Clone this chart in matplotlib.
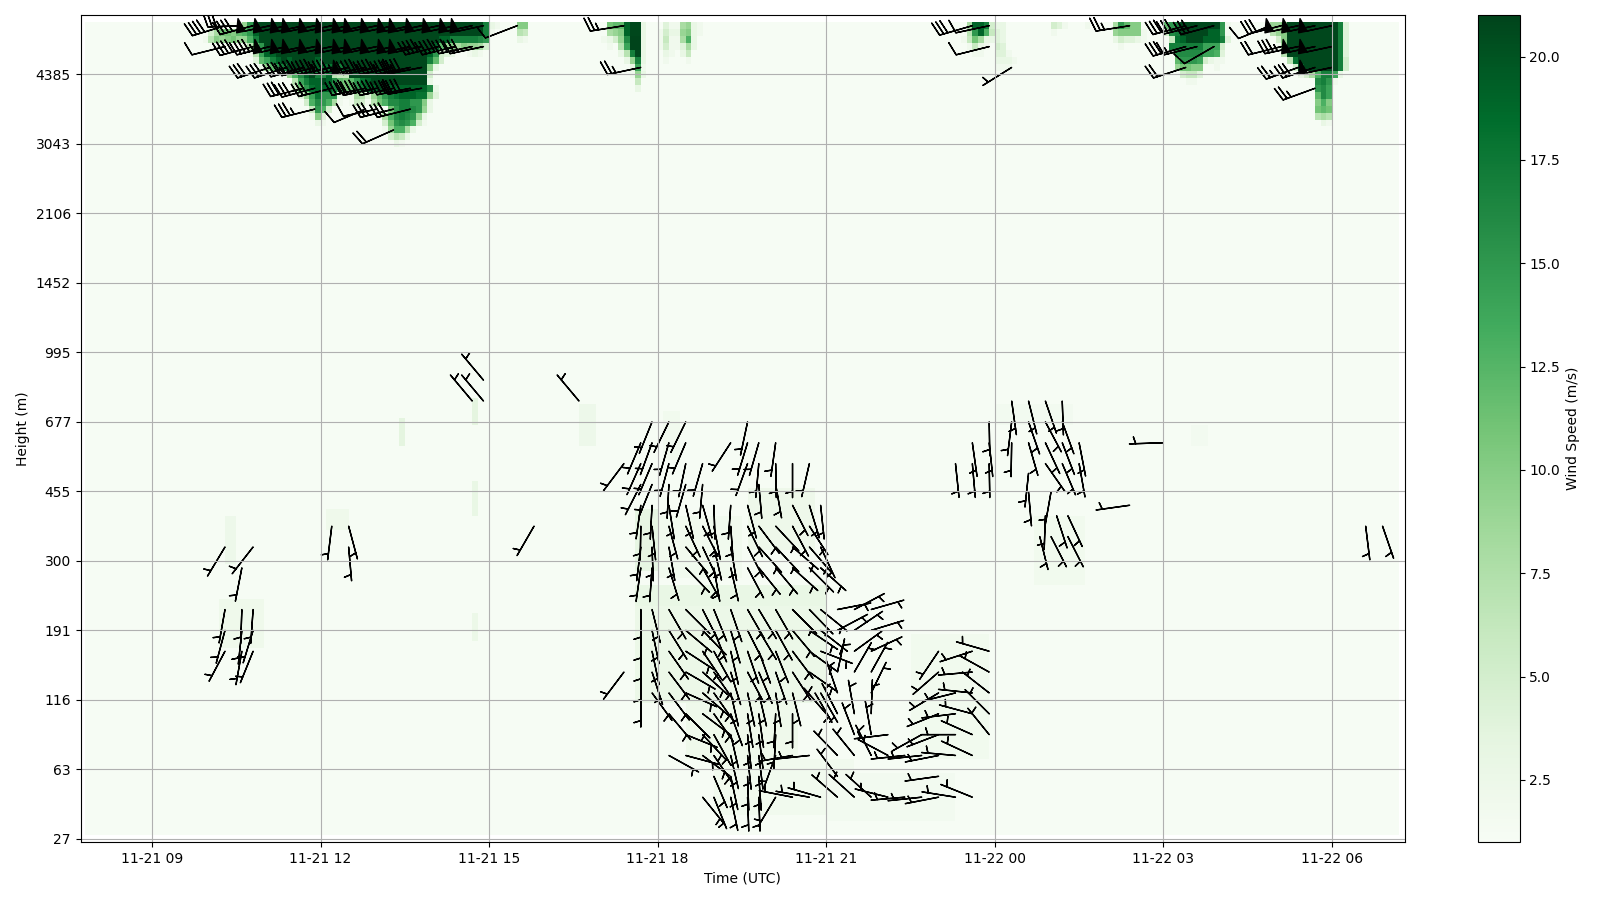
import matplotlib
matplotlib.use('Agg')
import matplotlib.dates as mdates
import matplotlib.pyplot as plt
import numpy as np

# height labels, one every 10 range gates
tick_heights = [27, 63, 116, 191, 300, 455, 677, 995, 1452, 2106, 3043, 4385]

STEP_MIN = 6          # minutes per profile
FIRST_STEP = -12      # profile numbers count from 09:00 UTC
N_STEPS = 234
N_GATES = 118
BG_SPEED = 1.15
CORE_SPEED = 20.8     # what the 'k' cells in the jet core read as

# strong wind blobs: (gate, first profile, one base-36 char per cell = m/s, 0 = nothing)
jet_a = [
    (117, 16, "9fjkkkkkkl" "kkkllkkklk" "kkkkkklkkk" "klkkkkkkkk" "kkkh" "32"),
    (116, 10, "58bbacdf" "jkkkkkkkkk" "kkkkkkkkkk" "kkkkkkkkkk" "kkkkkkkkkkkh" "2"),
    (115, 9, "2" "7a9ab99d" "hkkkkkkkkk" "kkkkkkkkkk" "kkkkkkkkkk" "kkkjjhhhhhgf"),
    (114, 16, "37c" "fkkkkkkkkk" "kkkkkkkkkk" "kkkkkkkkkk" "kj" "c9a8a9985"),
    (113, 17, "27" "ejjkkkkkkk" "kkkkkkkkkk" "kkkkkkkkkk" "jf" "54300232"),
    (112, 18, "4" "cehjkjkkkk" "jkkkkkkkkk" "kkkkkkkkkk" "hc5"),
    (111, 19, "39" "cfhkkkkk" "jjiihkkkkk" "kkkkkkkkkk" "a3"),
    (110, 24, "9dgjk" "hgj" "766" "kkkkkkkkkkkkkk" "5"),
    (109, 25, "7ehjjkjg" "cbcfijkkkkkkkkkk" "3"),
    (108, 25, "5bfijjjhe" "bcfhjjkkjjjjjj" "jg" "3"),
    (107, 26, "49eifff" "322" "87" "4" "9cfhijjjii" "94"),
    (106, 27, "5dgfd8" "202652" "7bdgghhff" "a3"),
    (105, 28, "6fd5" "0000000000" "bfhhgf" "93"),
    (104, 28, "2a4" "0000000000" "8dghgf" "93"),
    (103, 29, "32" "0000000000" "5bfgfd" "52"),
    (102, 41, "29dd83"),
    (101, 42, "5763"),
    (100, 43, "32"),
    (117, 65, "aa"),
    (116, 65, "76"),
    (115, 65, "32"),
]
jet_b = [
    (117, 81, "bccjkk3"),
    (116, 81, "89ajkk3"),
    (115, 80, "2359gll3"),
    (114, 81, "207ell3"),
    (113, 83, "37hk3"),
    (112, 84, "39h3"),
    (111, 85, "3e2"),
    (110, 85, "293"),
    (109, 86, "6"),
    (108, 86, "3"),
    (117, 91, "4228932"),
    (116, 90, "25339a32"),
    (115, 90, "26228d3"),
    (114, 90, "2522483"),
    (113, 91, "32036"),
    (112, 91, "20002"),
]
jet_c = [
    (117, 145, "8jjh533"),
    (116, 145, "7fjd643"),
    (115, 144, "26b83343"),
    (114, 145, "2632054"),
    (113, 146, "2200442"),
    (112, 150, "3332"),
    (111, 150, "222"),
    (117, 160, "542"),
    (116, 160, "2"),
]
jet_d = [
    (117, 166, "2"),
    (117, 171, "8fcaa"),
    (116, 171, "9aaaa2"),
    (115, 171, "354432"),
    (114, 172, "2"),
    (117, 180, "cfhkkkkkkkf2"),
    (116, 180, "5ghkkkkkjjf2"),
    (115, 181, "6ijkkkjjjh4"),
    (114, 181, "hhhhhheee5"),
    (113, 182, "gggggeed4"),
    (112, 182, "cfffe5322"),
    (111, 182, "9bbaa002"),
    (110, 183, "5664"),
    (109, 184, "22"),
]
jet_e = [
    (117, 199, "99akkkkkkkkkh4"),
    (116, 199, "79akkkkkkkkkh4"),
    (115, 200, "5akkkkkkkkkh4"),
    (114, 200, "29kkkkkkkkkh4"),
    (113, 201, "7kkkkkkkkkh4"),
    (112, 202, "7ikkkkkkkh5"),
    (111, 203, "5ikkkkkkh5"),
    (110, 204, "358dhhe3"),
    (109, 207, "ghf2"),
    (108, 207, "fge"),
    (107, 207, "cge"),
    (106, 207, "ada"),
    (105, 207, "bcb"),
    (104, 207, "787"),
    (103, 208, "32"),
]

# pale low level patches
pale_step0 = [86, 91, 106, 86, 86, 90, 95, 100, 135, 120, 150, 157, 13, 12, 31, 44, 57, 57, 57, 76, 185]
pale_step1 = [90, 94, 118, 120, 120, 105, 115, 125, 149, 143, 164, 166, 15, 20, 35, 45, 58, 58, 58, 79, 188]
pale_gate0 = [39, 55, 42, 32, 20, 38, 12, 4, 12, 3, 60, 37, 40, 28, 45, 57, 60, 47, 29, 57, 57]
pale_gate1 = [48, 62, 51, 37, 34, 47, 20, 12, 30, 10, 63, 47, 47, 35, 48, 61, 64, 52, 33, 63, 60]
pale_speed = [3.2, 1.9, 2.3, 3.0, 2.6, 1.9, 2.2, 1.8, 1.8, 1.7, 1.7, 1.8, 2.4, 2.2, 2.2, 3.5, 3.5, 3.0, 2.6, 2.4, 1.7]

# barbs per gate: (profile, speed for the barb, direction the wind comes from in degrees)
barbs_g117 = [(13, 40, 253), (16, 30, 268), (18, 40, 255), (21, 50, 258), (24, 50, 258), (27, 50, 258),
              (29, 50, 258), (32, 50, 258), (35, 50, 258), (38, 50, 258), (40, 50, 258), (43, 50, 258),
              (46, 50, 258), (48, 50, 258), (51, 50, 258), (54, 50, 258), (57, 50, 258), (59, 50, 258),
              (65, 10, 249), (84, 25, 261), (146, 30, 254), (149, 10, 258), (174, 25, 261), (184, 30, 255),
              (186, 30, 256), (189, 30, 255), (199, 10, 248), (201, 30, 256), (204, 50, 258), (207, 50, 258),
              (210, 50, 258)]
barbs_g114 = [(13, 10, 256), (18, 40, 255), (21, 45, 256), (24, 50, 258), (27, 50, 258), (29, 50, 258),
              (32, 50, 258), (35, 50, 258), (38, 50, 258), (40, 50, 258), (43, 50, 258), (46, 50, 258),
              (48, 50, 258), (51, 40, 256), (54, 40, 256), (57, 30, 258), (59, 30, 258), (149, 10, 256),
              (184, 30, 254), (186, 15, 256), (189, 10, 240), (201, 20, 256), (204, 35, 258), (207, 50, 258),
              (210, 50, 258)]
barbs_g111 = [(21, 30, 252), (24, 30, 252), (27, 35, 254), (29, 40, 256), (32, 45, 258), (35, 45, 258),
              (38, 50, 258), (40, 45, 258), (43, 45, 258), (46, 45, 258), (48, 40, 259), (87, 25, 258),
              (153, 5, 238), (184, 20, 252), (204, 25, 250), (207, 30, 252), (210, 50, 258)]
barbs_g108 = [(27, 30, 256), (29, 30, 255), (32, 30, 256), (38, 40, 258), (40, 40, 258), (43, 40, 258),
              (46, 40, 259), (48, 40, 260), (207, 25, 250)]
barbs_g105 = [(29, 35, 256), (38, 10, 247), (40, 10, 258), (43, 30, 256), (46, 30, 256)]
barbs_g102 = [(43, 20, 246)]
barbs_g66 = [(59, 5, 320)]
barbs_g63 = [(57, 5, 320), (59, 5, 320), (76, 5, 320), (153, 5, 172), (156, 5, 166), (159, 5, 161), (162, 5, 178)]
barbs_g60 = [(89, 5, 202), (92, 5, 206), (95, 5, 206), (106, 5, 192), (149, 5, 179), (153, 5, 187),
             (156, 5, 161), (159, 5, 152), (162, 5, 160)]
barbs_g57 = [(87, 5, 203), (89, 5, 200), (92, 5, 196), (95, 5, 203), (103, 5, 213), (106, 5, 197), (108, 5, 196),
             (111, 5, 188), (146, 5, 172), (149, 5, 174), (153, 5, 181), (156, 5, 164), (159, 5, 155),
             (162, 5, 159), (165, 5, 169), (180, 5, 268)]
barbs_g54 = [(84, 5, 217), (87, 5, 204), (89, 5, 203), (92, 5, 195), (95, 5, 192), (98, 5, 196), (106, 5, 200),
             (108, 5, 185), (111, 5, 179), (114, 5, 180), (117, 5, 193), (143, 5, 174), (146, 5, 175),
             (149, 5, 179), (159, 5, 145), (162, 5, 157), (165, 5, 170)]
barbs_g52 = [(156, 5, 186)]
barbs_g51 = [(87, 5, 207), (89, 5, 202), (92, 5, 183), (95, 5, 196), (98, 5, 185), (108, 5, 175), (111, 5, 170)]
barbs_g50 = [(156, 5, 175), (160, 5, 190)]
barbs_g48 = [(87, 5, 188), (89, 5, 183), (92, 5, 171), (95, 5, 167), (98, 5, 164), (100, 5, 178), (103, 5, 184),
             (106, 5, 165), (114, 5, 153), (117, 5, 163), (119, 5, 174), (174, 5, 262)]
barbs_g46 = [(159, 5, 182), (161, 5, 162), (163, 5, 155)]
barbs_g45 = [(32, 5, 187), (35, 5, 165), (68, 5, 210), (87, 5, 181), (89, 5, 174), (92, 5, 165), (95, 5, 155),
             (98, 5, 153), (100, 5, 169), (103, 5, 176), (106, 5, 154), (108, 5, 143), (111, 5, 137),
             (114, 5, 152), (117, 5, 147), (216, 5, 173), (219, 5, 161)]
barbs_g43 = [(158, 5, 166), (160, 5, 153), (163, 5, 153)]
barbs_g42 = [(13, 5, 211), (18, 5, 218), (35, 5, 175), (87, 5, 187), (89, 5, 178), (92, 5, 170), (95, 5, 140),
             (98, 5, 155), (100, 5, 167), (103, 5, 170), (106, 5, 153), (108, 5, 138), (111, 5, 137),
             (114, 5, 131), (117, 5, 139), (119, 5, 155)]
barbs_g39 = [(16, 5, 191), (87, 5, 188), (89, 5, 184), (92, 5, 163), (95, 5, 136), (98, 5, 151), (100, 5, 170),
             (103, 5, 167), (106, 5, 152), (108, 5, 141), (111, 5, 140), (114, 5, 132), (117, 5, 135), (119, 5, 132)]
barbs_g33 = [(13, 5, 190), (16, 5, 182), (18, 5, 184), (87, 5, 180), (89, 5, 166), (92, 5, 150), (95, 5, 135),
             (98, 5, 153), (100, 5, 158), (103, 5, 161), (106, 5, 150), (108, 5, 149), (111, 5, 150),
             (114, 5, 135), (117, 5, 136), (119, 5, 129), (122, 5, 79), (125, 5, 62), (128, 5, 74)]
barbs_g30 = [(13, 5, 195), (16, 5, 186), (18, 5, 197), (87, 5, 180), (89, 5, 168), (92, 5, 148), (95, 5, 130),
             (98, 5, 136), (100, 5, 158), (103, 5, 164), (106, 5, 153), (108, 5, 149), (111, 5, 151),
             (114, 5, 140), (117, 5, 124), (119, 5, 128), (122, 5, 62), (125, 5, 56), (128, 5, 73)]
barbs_g27 = [(13, 5, 208), (16, 5, 190), (18, 5, 202), (87, 5, 180), (89, 5, 168), (92, 5, 145), (95, 5, 123),
             (98, 5, 146), (100, 5, 151), (103, 5, 167), (106, 5, 161), (108, 5, 160), (111, 5, 158),
             (114, 5, 143), (117, 5, 126), (119, 5, 111), (125, 5, 54), (128, 5, 65), (140, 5, 214),
             (146, 5, 252), (149, 5, 286)]
barbs_g24 = [(84, 5, 217), (87, 5, 180), (89, 5, 162), (92, 5, 143), (95, 5, 120), (98, 5, 132), (100, 5, 145),
             (103, 5, 163), (106, 5, 152), (108, 5, 157), (111, 5, 161), (114, 5, 147), (117, 5, 125),
             (122, 5, 12), (125, 5, 30), (128, 5, 29), (140, 5, 229), (146, 5, 265), (149, 5, 299)]
barbs_g21 = [(87, 5, 180), (89, 5, 144), (92, 5, 143), (95, 5, 114), (98, 5, 131), (100, 5, 145), (103, 5, 167),
             (106, 5, 168), (108, 5, 167), (111, 5, 171), (114, 5, 166), (118, 5, 150), (119, 5, 150),
             (122, 5, 341), (128, 5, 26), (140, 5, 239), (143, 5, 256), (146, 5, 276), (149, 5, 308)]
barbs_g18 = [(92, 5, 140), (95, 5, 135), (98, 5, 127), (100, 5, 145), (103, 5, 160), (106, 5, 171), (108, 5, 172),
             (111, 5, 183), (114, 5, 180), (120, 5, 319), (122, 5, 333), (125, 5, 350), (128, 5, 2),
             (140, 5, 248), (143, 5, 263), (146, 5, 285), (149, 5, 315)]
barbs_g15 = [(95, 5, 112), (98, 5, 137), (100, 5, 151), (103, 5, 167), (106, 5, 174), (108, 5, 173), (111, 5, 183),
             (125, 5, 339), (128, 5, 350), (131, 5, 263), (137, 5, 241), (140, 5, 249), (143, 5, 270),
             (146, 5, 294), (149, 5, 321)]
barbs_g12 = [(92, 5, 119), (95, 5, 105), (98, 5, 127), (100, 5, 146), (103, 5, 167), (106, 5, 174), (108, 5, 173),
             (111, 5, 200), (114, 5, 260), (117, 5, 264), (122, 5, 316), (125, 5, 321), (128, 5, 333),
             (131, 5, 298), (134, 5, 264), (137, 5, 264), (140, 5, 259), (143, 5, 275), (146, 5, 295)]
barbs_g9 = [(100, 5, 157), (103, 5, 168), (106, 5, 178), (108, 5, 176), (122, 5, 323), (140, 5, 262)]
barbs_g6 = [(98, 5, 141), (100, 5, 158), (103, 5, 168), (106, 5, 178), (108, 5, 178), (111, 5, 211), (114, 5, 281),
            (117, 5, 280), (119, 5, 286), (122, 5, 311), (125, 5, 312), (128, 5, 312), (131, 5, 284),
            (134, 5, 265), (137, 5, 264), (140, 5, 259), (143, 5, 279), (146, 5, 292)]

barb_rows = {117: barbs_g117, 114: barbs_g114, 111: barbs_g111, 108: barbs_g108, 105: barbs_g105, 102: barbs_g102,
             66: barbs_g66, 63: barbs_g63, 60: barbs_g60, 57: barbs_g57, 54: barbs_g54, 52.6: barbs_g52,
             51: barbs_g51, 49.9: barbs_g50, 48: barbs_g48, 46.5: barbs_g46, 45: barbs_g45, 43.5: barbs_g43,
             42: barbs_g42, 39: barbs_g39, 33: barbs_g33, 30: barbs_g30, 27: barbs_g27, 24: barbs_g24,
             21: barbs_g21, 18: barbs_g18, 15: barbs_g15, 12: barbs_g12, 9: barbs_g9, 6: barbs_g6}

base = mdates.date2num(np.datetime64('2023-11-21T09:00'))


def step_to_time(step):
    return base + np.asarray(step, dtype=float) * STEP_MIN / 1440.0


speed = np.full((N_GATES, N_STEPS), BG_SPEED)
for s0, s1, g0, g1, val in zip(pale_step0, pale_step1, pale_gate0, pale_gate1, pale_speed):
    speed[g0:g1, s0 - FIRST_STEP:s1 - FIRST_STEP] = val
for gate, first, cells in jet_a + jet_b + jet_c + jet_d + jet_e:
    for i, ch in enumerate(cells):
        if ch == 'k':
            speed[gate, first - FIRST_STEP + i] = CORE_SPEED
        elif ch != '0':
            speed[gate, first - FIRST_STEP + i] = int(ch, 36)

# each profile fills the cell to its right, first gate has no data
step_edges = np.arange(N_STEPS + 1) + FIRST_STEP
gate_edges = np.arange(1, N_GATES + 1) - 0.5
gates = np.arange(N_GATES)

fig = plt.figure(figsize=(16, 9), dpi=100)
ax = fig.add_axes([80.6 / 1600, 1 - 842 / 900, (1405 - 80.6) / 1600, (842 - 15.3) / 900])
cax = fig.add_axes([1477.7 / 1600, 1 - 842 / 900, (1519.7 - 1477.7) / 1600, (842 - 15.3) / 900])

mesh = ax.pcolormesh(step_to_time(step_edges), gate_edges, speed[1:], shading='flat',
                     cmap='Greens', vmin=1, vmax=21)

bx, by, bu, bv = [], [], [], []
for gate, row in barb_rows.items():
    for step, spd, wdir in row:
        rad = np.deg2rad(wdir)
        bx.append(step_to_time(step))
        by.append(gate)
        bu.append(-spd * np.sin(rad))
        bv.append(-spd * np.cos(rad))
ax.barbs(bx, by, bu, bv, color='k')

ax.set_xlim(step_to_time(-12.7), step_to_time(223.0))
ax.set_ylim(-0.45, 118.5)
ax.xaxis_date()
ax.xaxis.set_major_locator(mdates.HourLocator(byhour=range(0, 24, 3)))
ax.xaxis.set_major_formatter(mdates.DateFormatter('%m-%d %H'))
ax.set_yticks(gates[::10][:len(tick_heights)])
ax.set_yticklabels([str(h) for h in tick_heights])
ax.set_xlabel('Time (UTC)')
ax.set_ylabel('Height (m)')
ax.grid(True)

cbar = fig.colorbar(mesh, cax=cax)
cbar.set_label('Wind Speed (m/s)')

fig.savefig('out.png', dpi=100)
